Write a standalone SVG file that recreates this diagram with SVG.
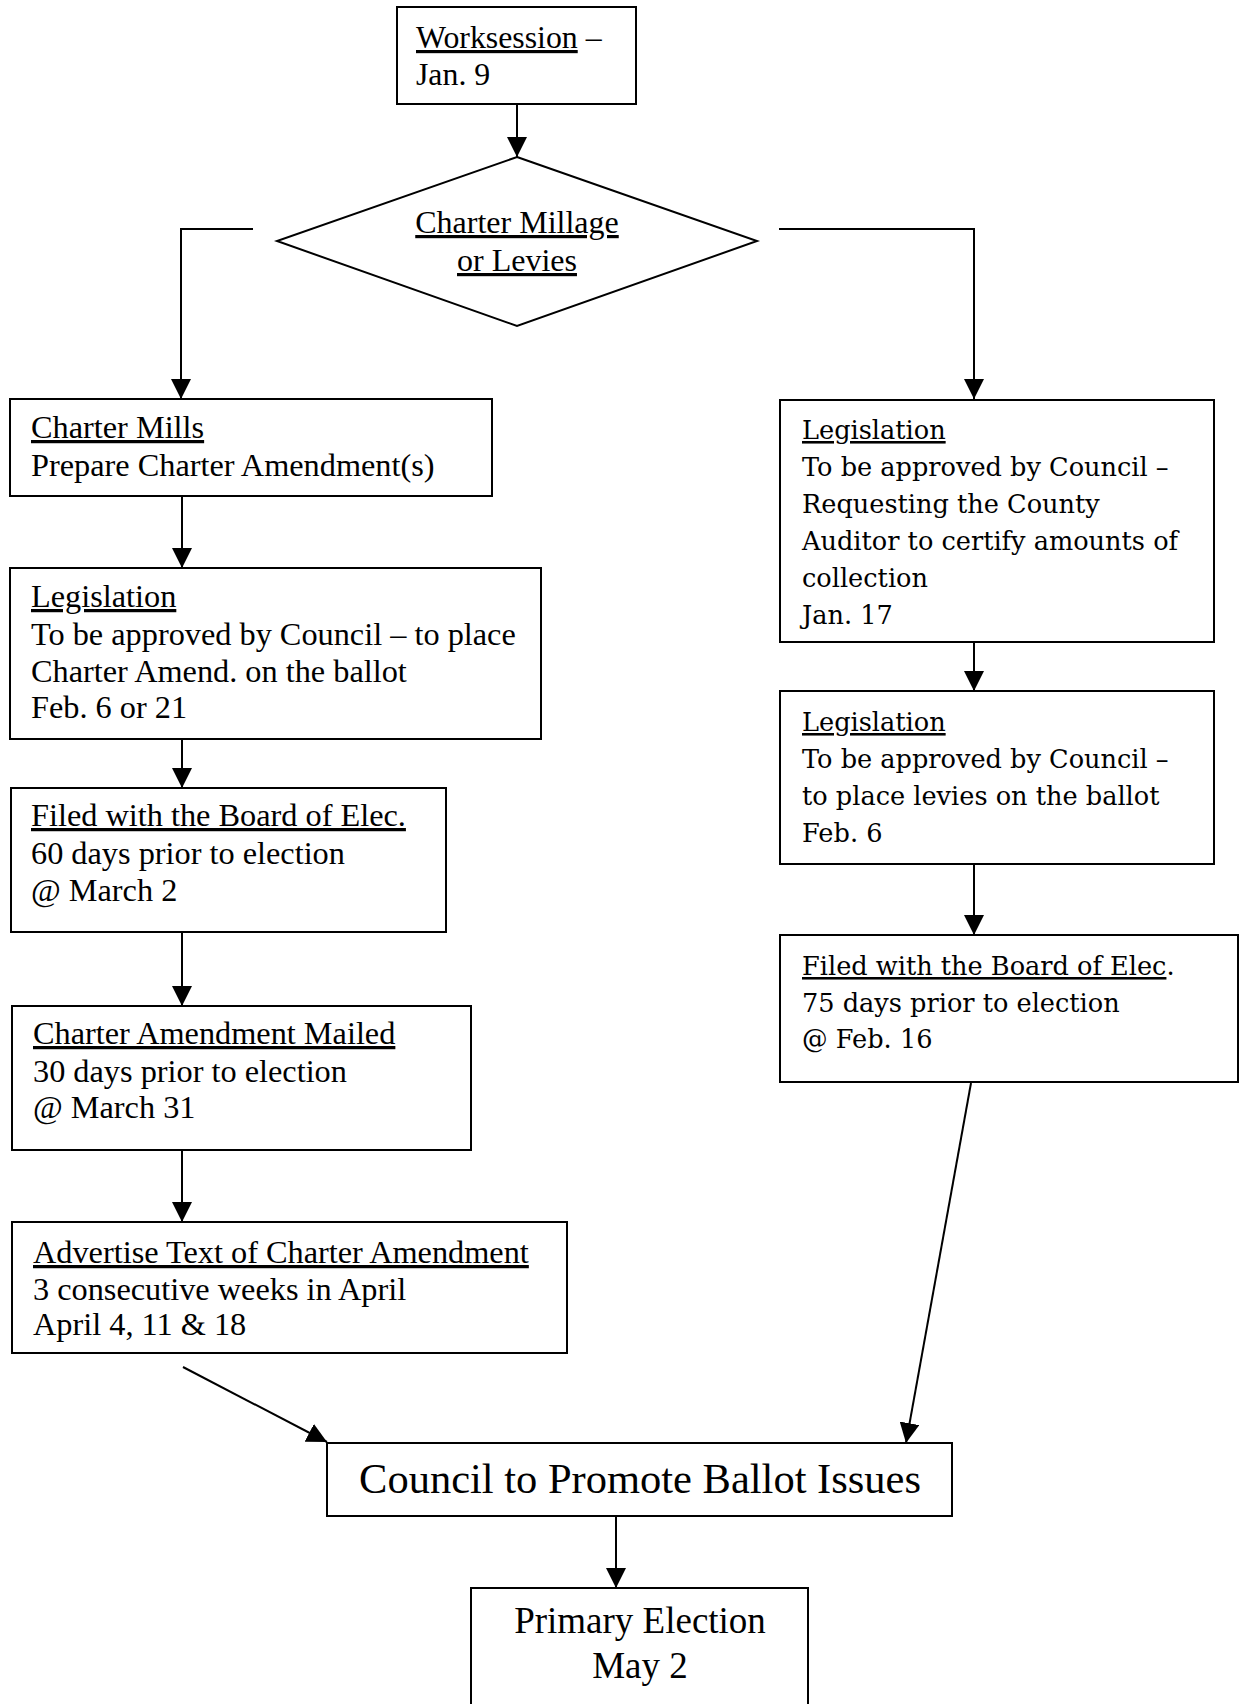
<svg xmlns="http://www.w3.org/2000/svg" width="1244" height="1704" viewBox="0 0 1244 1704">
<defs>
<marker id="arr" markerUnits="userSpaceOnUse" markerWidth="20" markerHeight="20" refX="20" refY="10" orient="auto">
<path d="M0,0 L20,10 L0,20 z" fill="#000"/>
</marker>
<style>
.box{fill:#fff;stroke:#000;stroke-width:2}
.con{fill:none;stroke:#000;stroke-width:2;marker-end:url(#arr)}
.tl{font-family:"Liberation Serif","Times New Roman",serif;font-size:32.3px;fill:#000}
.tr{font-family:"DejaVu Serif",serif;font-size:25.6px;fill:#000}
.u{text-decoration:underline}
.c{text-anchor:middle}
</style>
</defs>
<rect width="1244" height="1704" fill="#fff"/>
<g id="connectors">
<line class="con" x1="517" y1="104" x2="517" y2="157"/>
<polyline class="con" points="253,229 181,229 181,399"/>
<polyline class="con" points="779,229 974,229 974,399"/>
<line class="con" x1="182" y1="496" x2="182" y2="568"/>
<line class="con" x1="182" y1="739" x2="182" y2="788"/>
<line class="con" x1="182" y1="932" x2="182" y2="1006"/>
<line class="con" x1="182" y1="1150" x2="182" y2="1222"/>
<line class="con" x1="183" y1="1367" x2="327" y2="1442"/>
<line class="con" x1="974" y1="642" x2="974" y2="691"/>
<line class="con" x1="974" y1="864" x2="974" y2="935"/>
<line class="con" x1="971" y1="1083" x2="906" y2="1443"/>
<line class="con" x1="616" y1="1516" x2="616" y2="1588"/>
</g>
<g id="worksession">
<rect class="box" x="397" y="7" width="239" height="97"/>
<text class="tl" x="416" y="48" style="font-size:31.8px"><tspan class="u">Worksession</tspan> –</text>
<text class="tl" x="416" y="85" style="font-size:31.8px">Jan. 9</text>
</g>
<g id="decision">
<polygon class="box" points="517,157 757,241 517,326 277,241"/>
<text class="tl c u" x="517" y="233" style="font-size:32px">Charter Millage</text>
<text class="tl c u" x="517" y="271" style="font-size:32px">or Levies</text>
</g>
<g id="charter-mills">
<rect class="box" x="10" y="399" width="482" height="97"/>
<text class="tl u" x="31" y="438">Charter Mills</text>
<text class="tl" x="31" y="476">Prepare Charter Amendment(s)</text>
</g>
<g id="legislation-left">
<rect class="box" x="10" y="568" width="531" height="171"/>
<text class="tl u" x="31" y="607">Legislation</text>
<text class="tl" x="31" y="645">To be approved by Council – to place</text>
<text class="tl" x="31" y="682">Charter Amend. on the ballot</text>
<text class="tl" x="31" y="718">Feb. 6 or 21</text>
</g>
<g id="filed-left">
<rect class="box" x="11" y="788" width="435" height="144"/>
<text class="tl u" x="31" y="826">Filed with the Board of Elec.</text>
<text class="tl" x="31" y="864">60 days prior to election</text>
<text class="tl" x="31" y="901">@ March 2</text>
</g>
<g id="mailed">
<rect class="box" x="12" y="1006" width="459" height="144"/>
<text class="tl u" x="33" y="1044">Charter Amendment Mailed</text>
<text class="tl" x="33" y="1082">30 days prior to election</text>
<text class="tl" x="33" y="1118">@ March 31</text>
</g>
<g id="advertise">
<rect class="box" x="12" y="1222" width="555" height="131"/>
<text class="tl u" x="33" y="1263">Advertise Text of Charter Amendment</text>
<text class="tl" x="33" y="1300">3 consecutive weeks in April</text>
<text class="tl" x="33" y="1335">April 4, 11 &amp; 18</text>
</g>
<g id="legislation-right-1">
<rect class="box" x="780" y="400" width="434" height="242"/>
<text class="tr u" x="802" y="439">Legislation</text>
<text class="tr" x="802" y="476">To be approved by Council –</text>
<text class="tr" x="802" y="513">Requesting the County</text>
<text class="tr" x="802" y="550">Auditor to certify amounts of</text>
<text class="tr" x="802" y="587">collection</text>
<text class="tr" x="802" y="624">Jan. 17</text>
</g>
<g id="legislation-right-2">
<rect class="box" x="780" y="691" width="434" height="173"/>
<text class="tr u" x="802" y="731">Legislation</text>
<text class="tr" x="802" y="768">To be approved by Council –</text>
<text class="tr" x="802" y="805">to place levies on the ballot</text>
<text class="tr" x="802" y="842">Feb. 6</text>
</g>
<g id="filed-right">
<rect class="box" x="780" y="935" width="458" height="147"/>
<text class="tr" x="802" y="975"><tspan class="u">Filed with the Board of Elec</tspan>.</text>
<text class="tr" x="802" y="1012">75 days prior to election</text>
<text class="tr" x="802" y="1048">@ Feb. 16</text>
</g>
<g id="council">
<rect class="box" x="327" y="1443" width="625" height="73"/>
<text class="tl c" x="640" y="1493" style="font-size:42.5px">Council to Promote Ballot Issues</text>
</g>
<g id="primary">
<rect class="box" x="471" y="1588" width="337" height="140"/>
<text class="tl c" x="640" y="1633" style="font-size:37px">Primary Election</text>
<text class="tl c" x="640" y="1678" style="font-size:37px">May 2</text>
</g>
</svg>
